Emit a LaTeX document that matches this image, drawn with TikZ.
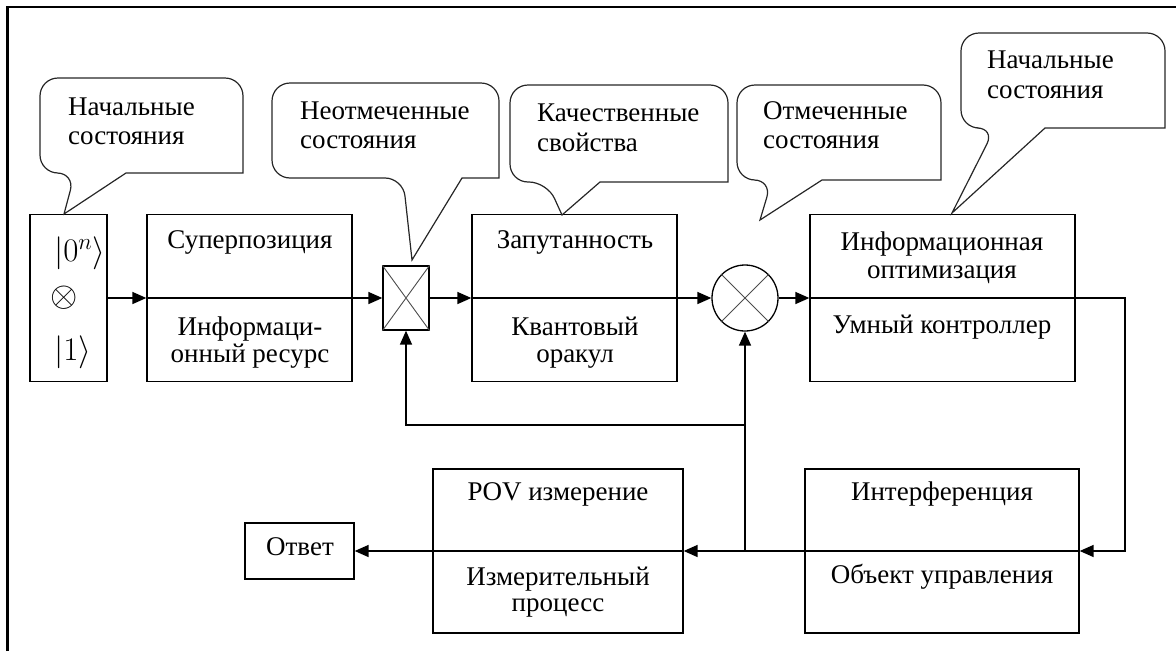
\RequirePackage{fix-cm}
\documentclass[tikz,border=0pt]{standalone}
\usepackage{graphicx}
\usepackage{fontspec}
\setmainfont{Liberation Serif}
\usetikzlibrary{arrows.meta}
\tikzset{
  blk/.style={draw, line width=1.3pt, rectangle, inner sep=0pt},
  txt/.style={font=\fontsize{27}{29}\selectfont, anchor=base, inner sep=0pt},
  ltxt/.style={txt, anchor=base west},
  conn/.style={line width=1.5pt},
  arr/.style={conn, -{Triangle[length=14pt,width=12pt]}},
  bubble/.style={draw, line width=1.2pt, black!85},
  cross/.style={line width=0.9pt, black!70}
}
\begin{document}
\begin{tikzpicture}[x=1pt,y=-1pt]
\useasboundingbox (0,0) rectangle (1176,651);
% outer frame
\draw[line width=2.6pt] (7.5,651) -- (7.5,7) -- (1176,7);

% main row boxes
\node[blk, minimum width=77pt, minimum height=167pt] (L) at (68.5,298) {};
\node[blk, minimum width=205pt, minimum height=167pt] (S) at (249.5,298) {};
\node[blk, minimum width=46pt, minimum height=64pt] (X) at (406,298) {};
\node[blk, minimum width=205pt, minimum height=167pt] (E) at (574.5,298) {};
\node[draw, line width=1.3pt, circle, minimum size=66pt, inner sep=0pt] (C) at (745,298) {};
\node[blk, minimum width=265pt, minimum height=167pt] (I) at (942.5,298) {};
% bottom row boxes
\node[blk, minimum width=274pt, minimum height=164pt] (F) at (942,551) {};
\node[blk, minimum width=250pt, minimum height=164pt] (P) at (558,551) {};
\node[blk, minimum width=109pt, minimum height=56pt] (A) at (299.5,551) {};

% crosses
\draw[cross] (X.north west) -- (X.south east) (X.north east) -- (X.south west);
\draw[cross] (C.north west) -- (C.south east) (C.north east) -- (C.south west);

% texts in left box
\node[ltxt] (t0) at (54,261) {\scalebox{1.22}{$|0^{n}\rangle$}};
\node[txt, anchor=center] (t1) at (64,298) {\scalebox{1.3}{$\otimes$}};
\node[ltxt] (t2) at (54,360) {\scalebox{1.22}{$|1\rangle$}};

% box texts
\node[txt] (s1) at (250,248) {Суперпозиция};
\node[txt] (s2) at (250,335) {Информаци-};
\node[txt] (s3) at (250,362) {онный ресурс};
\node[txt] (e1) at (575,248) {Запутанность};
\node[txt] (e2) at (575,335) {Квантовый};
\node[txt] (e3) at (575,362) {оракул};
\node[txt] (i1) at (942,250) {Информационная};
\node[txt] (i2) at (942,278) {оптимизация};
\node[txt] (i3) at (942,333) {Умный контроллер};
\node[txt] (p1) at (558,500) {POV измерение};
\node[txt] (p2) at (558,585) {Измерительный};
\node[txt] (p3) at (558,611) {процесс};
\node[txt] (f1) at (942,500) {Интерференция};
\node[txt] (f2) at (942,583) {Объект управления};
\node[txt] (a1) at (300,555) {Ответ};

% bubbles
\draw[bubble] (141,78) [rounded corners=18pt] -- (40,78) -- (40,173) -- (75,173) [sharp corners] -- (64,214) -- (126,173) -- (243,173) [rounded corners=18pt] -- (243,78) -- cycle;
\draw[bubble] (385,83) [rounded corners=18pt] -- (272,83) -- (272,178) -- (403,178) [sharp corners] -- (412,260) -- (462,178) -- (499,178) [rounded corners=18pt] -- (499,83) -- cycle;
\draw[bubble] (619,85) [rounded corners=18pt] -- (510,85) -- (510,182) -- (547,182) [sharp corners] -- (562,215) -- (600,182) -- (728,182) [rounded corners=18pt] -- (728,85) -- cycle;
\draw[bubble] (839,85) [rounded corners=18pt] -- (737,85) -- (737,180) -- (772,180) [sharp corners] -- (760,220) -- (822,180) -- (941,180) [rounded corners=18pt] -- (941,85) -- cycle;
\draw[bubble] (1063,33) [rounded corners=18pt] -- (961,33) -- (961,128) -- (995,128) [sharp corners] -- (952,213) -- (1045,128) -- (1165,128) [rounded corners=18pt] -- (1165,33) -- cycle;

\node[ltxt] (b1a) at (68,115) {Начальные};
\node[ltxt] (b1b) at (68,144) {состояния};
\node[ltxt] (b2a) at (300,119) {Неотмеченные};
\node[ltxt] (b2b) at (300,148) {состояния};
\node[ltxt] (b3a) at (537,121) {Качественные};
\node[ltxt] (b3b) at (537,151) {свойства};
\node[ltxt] (b4a) at (763,119) {Отмеченные};
\node[ltxt] (b4b) at (763,148) {состояния};
\node[ltxt] (b5a) at (987,68) {Начальные};
\node[ltxt] (b5b) at (987,98) {состояния};

% connectors
\coordinate (r) at (1125,298);
\coordinate (j) at (745,551);
\coordinate (k) at (745,425);
\draw[arr] (L) -- (S);
\draw[conn] (S.west) -- (S.east);
\draw[arr] (S) -- (X);
\draw[arr] (X) -- (E);
\draw[conn] (E.west) -- (E.east);
\draw[arr] (E) -- (C);
\draw[arr] (C) -- (I);
\draw[conn] (I.west) -- (I.east);
\draw[arr] (I.east) -- (r) |- (F.east);
\draw[conn] (F.east) -- (F.west);
\draw[arr] (F.west) -- (P.east);
\draw[conn] (P.east) -- (P.west);
\draw[arr] (P.west) -- (A.east);
\draw[arr] (j) -- (C.south);
\draw[arr] (k) -| (X.south);
\end{tikzpicture}
\end{document}
